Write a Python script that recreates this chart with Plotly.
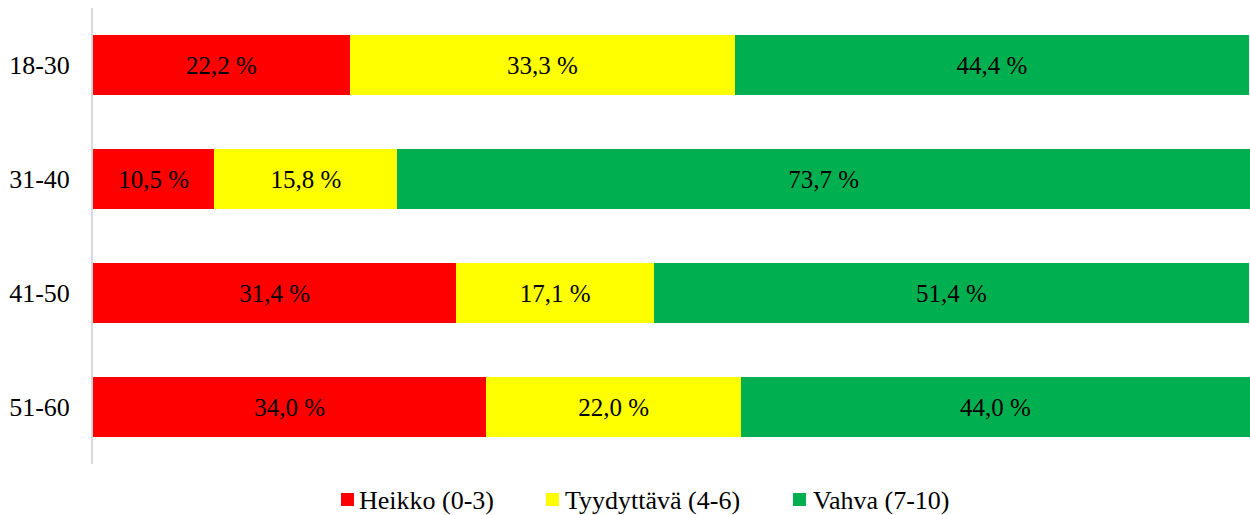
import plotly.graph_objects as go

categories = ["18-30", "31-40", "41-50", "51-60"]
series_names = ["Heikko (0-3)", "Tyydyttävä (4-6)", "Vahva (7-10)"]
heikko = [22.2, 10.5, 31.4, 34.0]
tyydyttava = [33.3, 15.8, 17.1, 22.0]
vahva = [44.4, 73.7, 51.4, 44.0]
colors = ["#FF0000", "#FFFF00", "#00B050"]

FONT = "Liberation Serif, Times New Roman, serif"

# pixel geometry of the plot area
PX0, PX1, PY0, PY1 = 93, 1250, 8, 464


def px_x(x):
    return (x - PX0) / (PX1 - PX0)


def px_y(y):
    return (PY1 - y) / (PY1 - PY0)


fig = go.Figure()
for name, vals, col in zip(series_names, [heikko, tyydyttava, vahva], colors):
    fig.add_trace(go.Bar(
        y=categories, x=vals, name=name, orientation="h",
        marker=dict(color=col, line=dict(width=0)),
        text=[f"{v:.1f} %".replace(".", ",") for v in vals],
        textposition="inside", insidetextanchor="middle",
        textfont=dict(family=FONT, size=25, color="black"),
        hoverinfo="skip", showlegend=False,
    ))

# custom legend (square + label), positioned like the reference
legend_square_x = [341, 546, 793]
legend_text_x = [359, 565, 813]
shapes = []
annotations = []
for name, col, sx, tx in zip(series_names, colors, legend_square_x, legend_text_x):
    shapes.append(dict(type="rect", xref="paper", yref="paper",
                       x0=px_x(sx), x1=px_x(sx + 13), y0=px_y(506), y1=px_y(493),
                       fillcolor=col, line=dict(width=0)))
    annotations.append(dict(text=name, xref="paper", yref="paper",
                            x=px_x(tx - 2), y=px_y(500), xanchor="left", yanchor="middle",
                            showarrow=False,
                            font=dict(family=FONT, size=26, color="black")))

fig.update_layout(
    barmode="stack",
    bargap=0.48,
    width=1250, height=515,
    margin=dict(l=PX0, r=1250 - PX1, t=PY0, b=515 - PY1, autoexpand=False),
    paper_bgcolor="white", plot_bgcolor="white",
    font=dict(family=FONT, size=26, color="black"),
    showlegend=False,
    shapes=shapes,
    annotations=annotations,
    xaxis=dict(range=[0, 100], visible=False, fixedrange=True),
    yaxis=dict(autorange="reversed", showline=True, linecolor="#D9D9D9", linewidth=2,
               showgrid=False, ticks="", ticklabelstandoff=16, fixedrange=True,
               tickfont=dict(family=FONT, size=26, color="black")),
)

fig.write_html("out.html", config={"displayModeBar": False, "staticPlot": True},
               post_script="document.body.style.margin='0';document.body.style.overflow='hidden';")
